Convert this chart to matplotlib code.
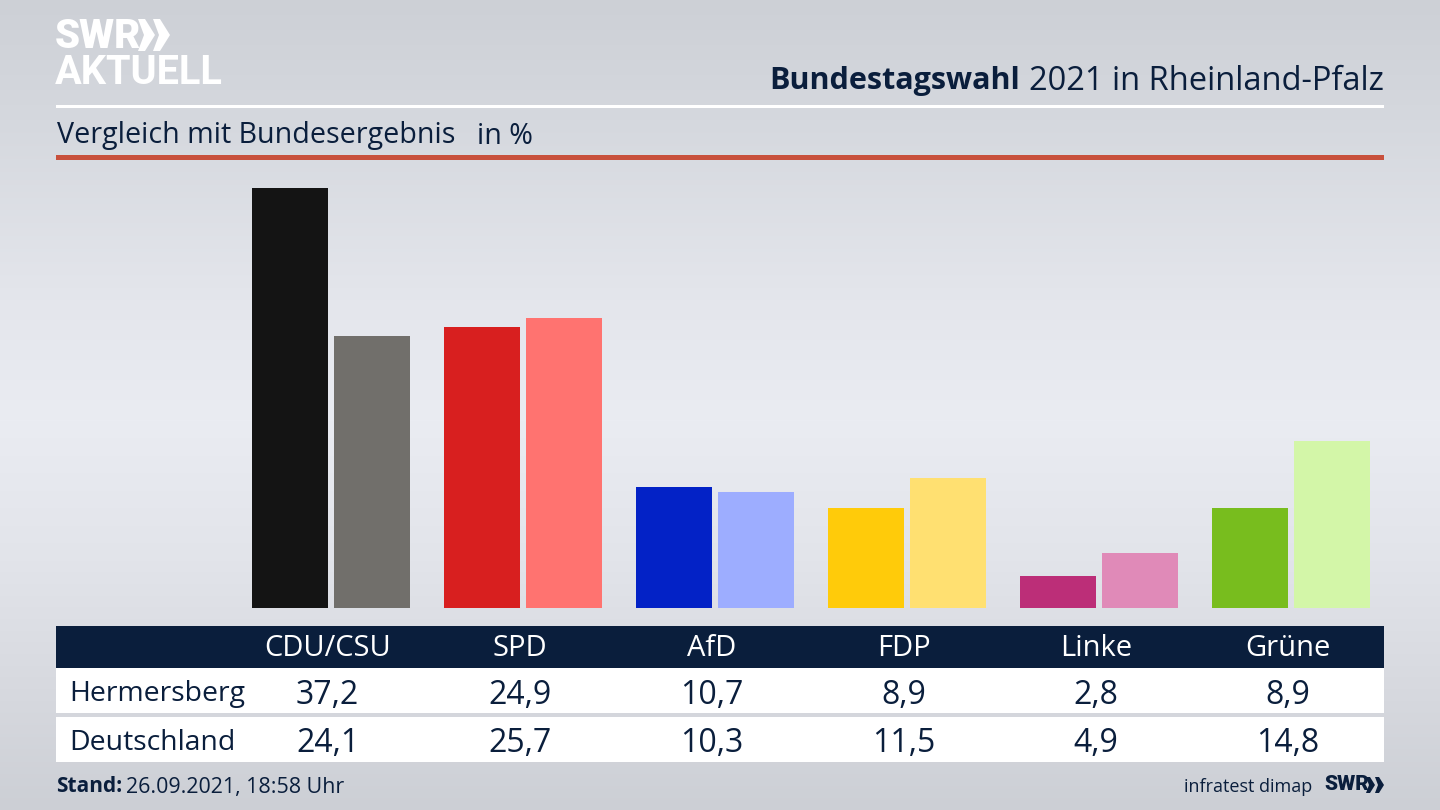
import numpy as np
import matplotlib
matplotlib.use("Agg")
import matplotlib.pyplot as plt
from matplotlib.patches import Rectangle, Polygon

parties = ["CDU/CSU", "SPD", "AfD", "FDP", "Linke", "Grüne"]
hermersberg = [37.2, 24.9, 10.7, 8.9, 2.8, 8.9]
deutschland = [24.1, 25.7, 10.3, 11.5, 4.9, 14.8]
colors_local = ["#141414", "#d81f1f", "#0322c6", "#ffcb0a", "#bc2e78", "#78bd1e"]
colors_national = ["#716f6b", "#ff7370", "#9dadff", "#ffe071", "#e08ab8", "#d3f6a8"]
row_names = ["Hermersberg", "Deutschland"]

NAVY = "#0a1e3c"
plt.rcParams["font.family"] = ["Open Sans", "DejaVu Sans"]
fig = plt.figure(figsize=(14.4, 8.1), dpi=100)

# background
bg = fig.add_axes([0, 0, 1, 1], zorder=0)
ys = np.array([0, 120, 300, 420, 560, 700, 810])
vals = np.array([[205, 208, 214], [213, 216, 222], [228, 230, 236], [234, 236, 242],
                 [226, 228, 234], [214, 216, 222], [204, 207, 213]], float)
yy = np.arange(810)
grad = np.stack([np.interp(yy, ys, vals[:, c]) for c in range(3)], axis=1)[:, None, :] / 255
bg.imshow(grad, aspect="auto", extent=(0, 1440, 810, 0))
bg.set_xlim(0, 1440); bg.set_ylim(810, 0); bg.axis("off")

def R(x0, y0, x1, y1, c):
    bg.add_patch(Rectangle((x0, y0), x1 - x0, y1 - y0, fc=c, ec="none"))

# header
R(56, 104.5, 1384, 107.5, "white")
R(56, 155, 1384, 160, "#c8503c")
R(56, 626, 1384, 668, NAVY)
R(56, 668, 1384, 713, "white")
R(56, 717, 1384, 762, "white")

# logo
bg.text(55, 36, "SWR", color="white", fontsize=29, fontweight="black", family="Roboto",
        va="center", ha="left")
for x0 in (138, 153):
    bg.add_patch(Polygon([(x0, 19), (x0 + 7, 19), (x0 + 17, 35), (x0 + 7, 51), (x0, 51), (x0 + 6, 35)],
                         fc="white", ec="none"))
bg.text(55, 72.5, "AKTUELL", color="white", fontsize=28.6, fontweight="bold", family="Roboto",
        va="center", ha="left")

bg.text(1020, 81, "Bundestagswahl", color=NAVY, fontsize=22, fontweight="bold", va="center", ha="right")
bg.text(1384, 81, "2021 in Rheinland-Pfalz", color=NAVY, fontsize=23.5, va="center", ha="right")
bg.text(57, 135, "Vergleich mit Bundesergebnis", color=NAVY, fontsize=20.65, va="center", ha="left")
bg.text(477, 136.5, "in %", color=NAVY, fontsize=20.65, va="center", ha="left")

# bars
ax = fig.add_axes([0, (810 - 608) / 810, 1, (608 - 160) / 810], zorder=1)
ax.patch.set_alpha(0)
ax.set_xlim(-331 / 192, (1440 - 331) / 192)
ax.set_ylim(0, 448 / (420 / 37.2))
ax.axis("off")
x = np.arange(len(parties))
off = 41 / 192
w = 76 / 192
ax.bar(x - off, hermersberg, w, color=colors_local)
ax.bar(x + off, deutschland, w, color=colors_national)

# table
for i, p in enumerate(parties):
    cx = 327.5 + 192 * i if i == 0 else 328 + 192 * i
    bg.text(cx, 649, p, color="white", fontsize=21, va="center", ha="center")
    bg.text(cx, 695, f"{hermersberg[i]:.1f}".replace(".", ","), color=NAVY, fontsize=23, va="center", ha="center")
    bg.text(cx, 743, f"{deutschland[i]:.1f}".replace(".", ","), color=NAVY, fontsize=23, va="center", ha="center")
bg.text(69.5, 694.5, row_names[0], color=NAVY, fontsize=20.4, va="center", ha="left")
bg.text(69.5, 742.5, row_names[1], color=NAVY, fontsize=20.4, va="center", ha="left")

# footer
bg.text(56, 787, "Stand:", color=NAVY, fontsize=15, fontweight="bold", va="center", ha="left")
bg.text(126, 788, "26.09.2021, 18:58 Uhr", color=NAVY, fontsize=15.4, va="center", ha="left")
bg.text(1312, 786.5, "infratest dimap", color=NAVY, fontsize=13, va="center", ha="right")
bg.text(1324, 785, "SWR", color=NAVY, fontsize=15, fontweight="black", family="Roboto", va="center", ha="left")
for x0 in (1366, 1375):
    bg.add_patch(Polygon([(x0, 777), (x0 + 4, 777), (x0 + 9, 785), (x0 + 4, 793), (x0, 793), (x0 + 3, 785)],
                         fc=NAVY, ec="none"))

fig.savefig("out.png", dpi=100)
